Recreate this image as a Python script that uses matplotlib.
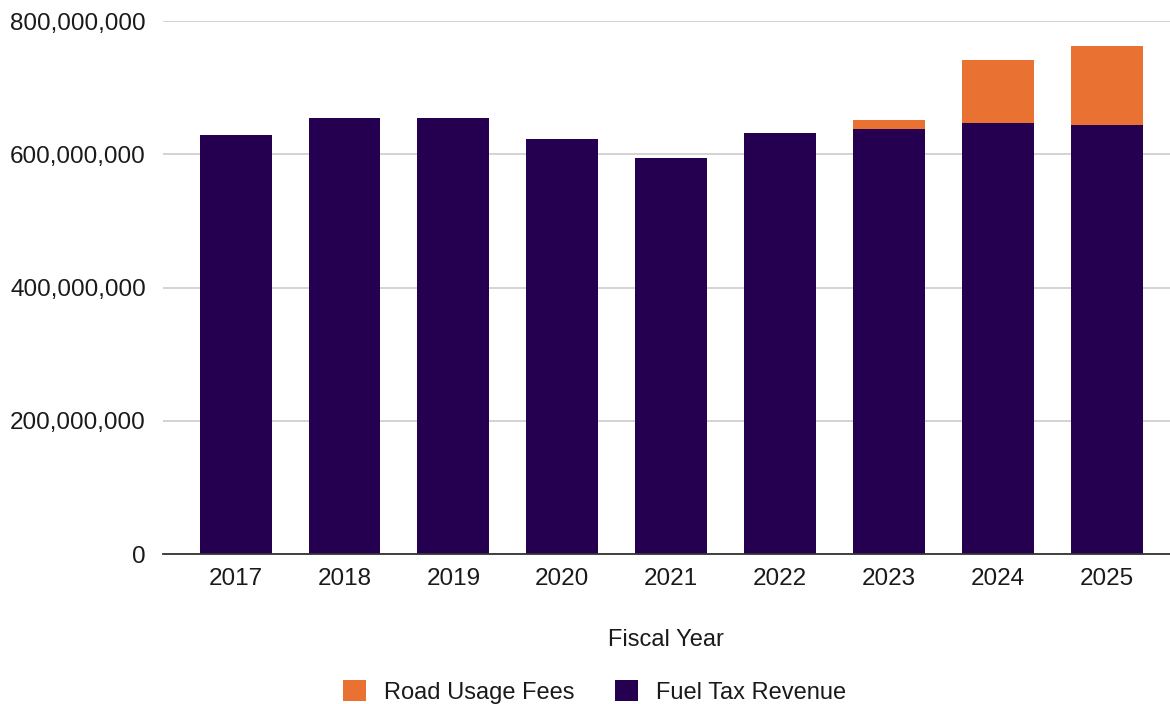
import matplotlib.pyplot as plt
from matplotlib.ticker import FuncFormatter

plt.rcParams['font.family'] = ['Liberation Sans', 'DejaVu Sans']

# Data
years = ['2017', '2018', '2019', '2020', '2021', '2022', '2023', '2024', '2025']
fuel_tax = [629e6, 654e6, 654e6, 623e6, 595e6, 632e6, 638e6, 647e6, 644e6]
road_fees = [0, 0, 0, 0, 0, 0, 13e6, 94e6, 119e6]

fuel_color = '#250050'
fees_color = '#E97132'

fig = plt.figure(figsize=(11.7, 7.04), dpi=100)
ax = fig.add_axes([0.139, 0.213, 0.861, 0.757])

x = range(len(years))
ax.bar(x, fuel_tax, width=0.66, color=fuel_color, label='Fuel Tax Revenue', zorder=3)
ax.bar(x, road_fees, width=0.66, bottom=fuel_tax, color=fees_color,
       label='Road Usage Fees', zorder=3)

ax.set_xlim(-0.67, 8.58)
ax.set_ylim(0, 800e6)
ax.set_yticks([0, 200e6, 400e6, 600e6, 800e6])
ax.yaxis.set_major_formatter(FuncFormatter(lambda v, p: f'{int(v):,}'))
ax.set_xticks(list(x))
ax.set_xticklabels(years)

ax.grid(axis='y', color='#cccccc', linewidth=1.2, zorder=0)
for s in ['top', 'right', 'left']:
    ax.spines[s].set_visible(False)
ax.spines['bottom'].set_color('#333333')
ax.spines['bottom'].set_linewidth(1.3)
ax.spines['bottom'].set_zorder(4)

ax.tick_params(axis='both', length=0, labelsize=17.5, colors='#1a1a1a')
ax.tick_params(axis='y', pad=12)
ax.tick_params(axis='x', pad=10)

ax.set_xlabel('Fiscal Year', fontsize=17, color='#1a1a1a', labelpad=28)

handles, labels = ax.get_legend_handles_labels()
fig.legend(handles[::-1], labels[::-1], loc='lower center', bbox_to_anchor=(0.508, -0.03),
           ncol=2, frameon=False, fontsize=17, handlelength=1.0, handleheight=1.0,
           columnspacing=1.7, handletextpad=0.75, labelcolor='#1a1a1a')

fig.savefig('out.png', dpi=100)
